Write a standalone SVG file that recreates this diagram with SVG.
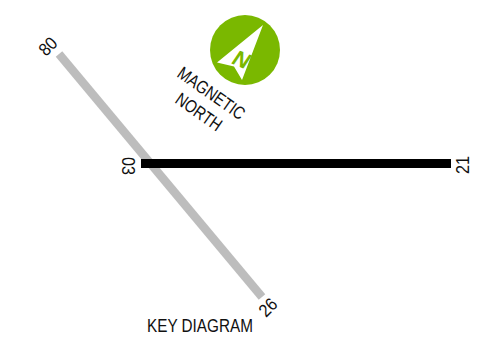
<svg xmlns="http://www.w3.org/2000/svg" width="477" height="338" viewBox="0 0 477 338">
<style>
text{font-family:"Liberation Sans",Arial,sans-serif;fill:#111;font-size:18px}
</style>
<rect width="477" height="338" fill="#fff"/>
<g id="runway-08-26"><line x1="59" y1="54" x2="262" y2="297" stroke="#bdbdbd" stroke-width="8.500"/></g>
<g id="runway-03-21"><rect x="141" y="159" width="310" height="9" fill="#000"/></g>
<g id="north-arrow">
<circle cx="245" cy="50" r="35" fill="#7ab800"/>
<polygon points="263,25 217,62.500 234,66.500 242,80" fill="#fff"/>
<text transform="translate(230,63) rotate(22) skewX(-12)" style="font-size:22px;font-weight:bold;fill:#7ab800">N</text>
</g>
<text transform="translate(176,76) rotate(35) scale(0.82,1)">MAGNETIC</text>
<text transform="translate(174,102) rotate(35) scale(0.82,1)">NORTH</text>
<text transform="translate(46,57) rotate(-45) scale(0.9,1)">80</text>
<text transform="translate(122,157) rotate(90) scale(0.9,1)">03</text>
<text transform="translate(458,174) rotate(-90) scale(0.9,1)" y="11">21</text>
<text transform="translate(266,318) rotate(-45) scale(0.9,1)">26</text>
<text transform="translate(147,332) scale(0.85,1)">KEY DIAGRAM</text>
</svg>
